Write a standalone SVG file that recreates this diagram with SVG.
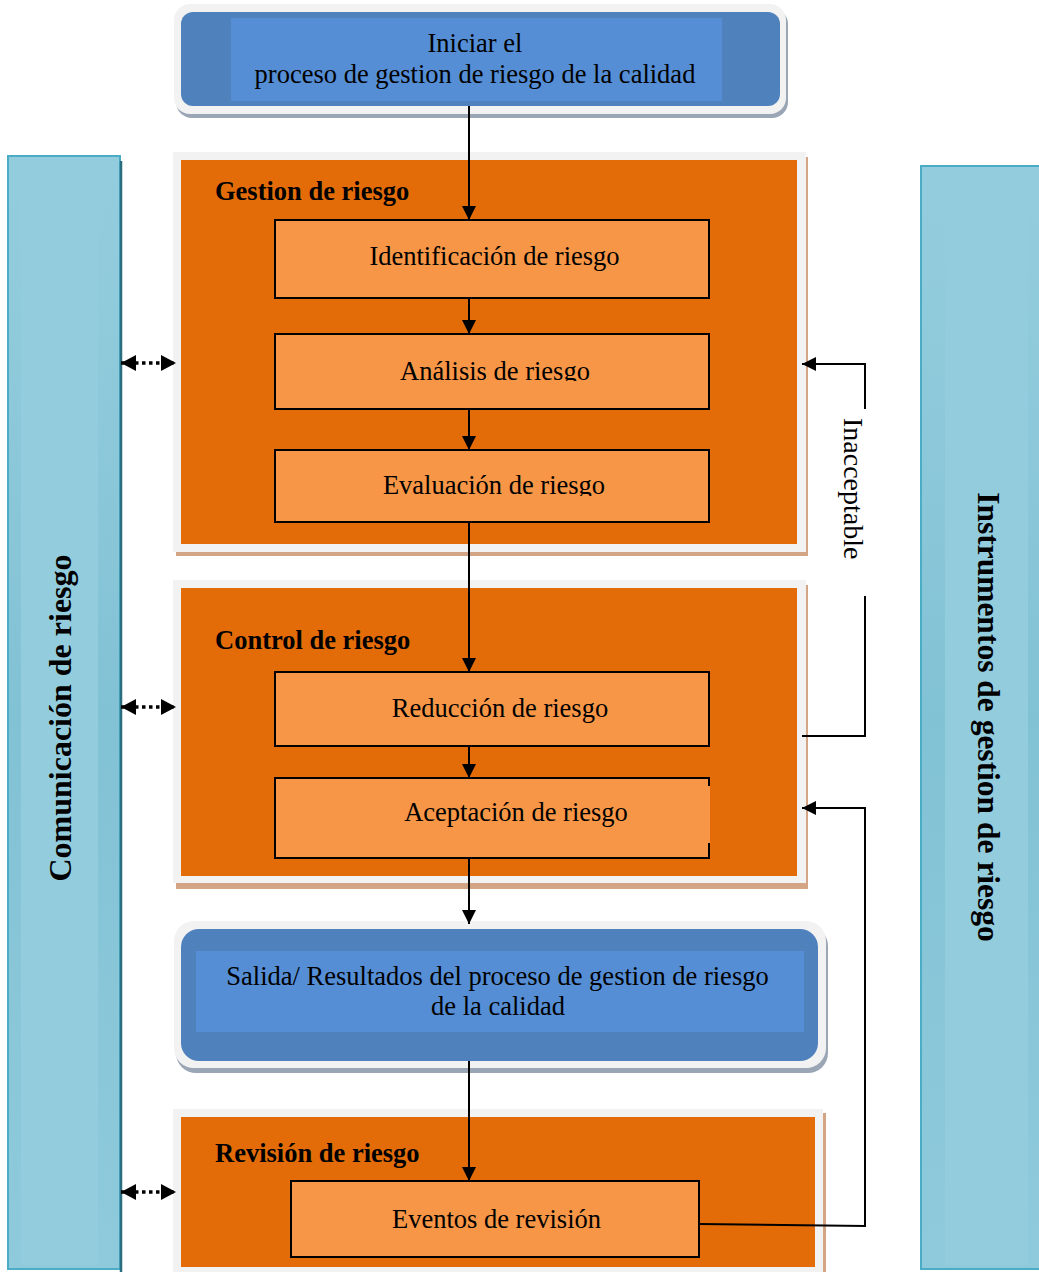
<svg xmlns="http://www.w3.org/2000/svg" width="1039" height="1272" viewBox="0 0 1039 1272">
  <defs>
    <style>
      .txt { font-family: "Liberation Serif", "Times New Roman", serif; font-size: 26.5px; fill: #000; }
      .ttl { font-family: "Liberation Serif", "Times New Roman", serif; font-size: 26.5px; font-weight: bold; fill: #000; }
      .side { font-family: "Liberation Serif", "Times New Roman", serif; font-size: 31.5px; font-weight: bold; fill: #000; }
      .note { font-family: "Liberation Serif", "Times New Roman", serif; font-size: 28px; fill: #000; }
      .step { fill: #f79646; stroke: #000; stroke-width: 2; }
      .panel { fill: #e36c09; }
      .frame { fill: #f2f2f2; }
      .tan { fill: #d3a585; }
      .wire { fill: none; stroke: #000; stroke-width: 2; }
      .flow { marker-end: url(#head); }
      .dots { fill: none; stroke: #000; stroke-width: 3.5; stroke-dasharray: 3.5 3.5; marker-start: url(#dhead); marker-end: url(#dhead); }
    </style>
    <marker id="head" viewBox="0 0 14 14" refX="14" refY="7" markerWidth="14" markerHeight="14" markerUnits="userSpaceOnUse" orient="auto">
      <path d="M0,0 L14,7 L0,14 Z" fill="#000"/>
    </marker>
    <marker id="dhead" viewBox="0 0 15 16" refX="15" refY="8" markerWidth="15" markerHeight="16" markerUnits="userSpaceOnUse" orient="auto-start-reverse">
      <path d="M0,0 L15,8 L0,16 Z" fill="#000"/>
    </marker>
    <linearGradient id="barGrad" x1="0" y1="0" x2="0" y2="1">
      <stop offset="0" stop-color="#93cddd"/>
      <stop offset="0.08" stop-color="#92ccdc"/>
      <stop offset="0.5" stop-color="#82c2d5"/>
      <stop offset="1" stop-color="#8ecadb"/>
    </linearGradient>
    <clipPath id="clipAnalisis"><rect x="276" y="335" width="432" height="46"/></clipPath>
    <clipPath id="clipEvaluacion"><rect x="276" y="451" width="432" height="45"/></clipPath>
  </defs>

  <!-- side bar: communication -->
  <g id="comunicacion">
    <rect x="8" y="156" width="112" height="1113" fill="url(#barGrad)" stroke="#4bacc6" stroke-width="2"/>
    <rect x="21" y="160" width="77" height="1105" fill="#93cddd"/>
    <line x1="121" y1="161" x2="121" y2="1272" stroke="#2a6d80" stroke-width="2.5"/>
    <text class="side" style="font-size:32px" transform="translate(71,718) rotate(-90)" text-anchor="middle">Comunicación de riesgo</text>
  </g>

  <!-- side bar: tools -->
  <g id="instrumentos">
    <rect x="921" y="166" width="130" height="1103" fill="url(#barGrad)" stroke="#4bacc6" stroke-width="2"/>
    <rect x="945" y="170" width="83" height="1095" fill="#93cddd"/>
    <text class="side" transform="translate(978,717) rotate(90)" text-anchor="middle">Instrumentos de gestion de riesgo</text>
  </g>

  <!-- start -->
  <g id="iniciar">
    <rect x="176" y="8" width="612" height="110" rx="16" fill="#9aa6b6"/>
    <rect x="174" y="4" width="612" height="110" rx="16" fill="#f2f2f2"/>
    <rect x="181" y="12" width="599" height="94" rx="12" fill="#4f81bd"/>
    <rect x="231" y="18" width="491" height="83" fill="#558ed5"/>
    <text class="txt" x="475" y="52" text-anchor="middle">Iniciar el</text>
    <text class="txt" x="475" y="83" text-anchor="middle">proceso de gestion de riesgo de la calidad</text>
  </g>

  <!-- risk management panel -->
  <g id="gestion">
    <rect class="tan" x="176" y="157" width="632" height="399"/>
    <rect class="frame" x="173" y="152" width="633" height="400"/>
    <rect class="panel" x="181" y="160" width="616" height="384"/>
    <text class="ttl" x="215" y="200">Gestion de riesgo</text>
  </g>
  <g id="identificacion">
    <rect class="step" x="275" y="220" width="434" height="78"/>
    <text class="txt" x="494.5" y="265" text-anchor="middle">Identificación de riesgo</text>
  </g>
  <g id="analisis">
    <rect class="step" x="275" y="334" width="434" height="75"/>
    <text class="txt" x="495" y="380" text-anchor="middle" clip-path="url(#clipAnalisis)">Análisis de riesgo</text>
  </g>
  <g id="evaluacion">
    <rect class="step" x="275" y="450" width="434" height="72"/>
    <text class="txt" x="494" y="494" text-anchor="middle" clip-path="url(#clipEvaluacion)">Evaluación de riesgo</text>
  </g>

  <!-- risk control panel -->
  <g id="control">
    <rect class="tan" x="176" y="585" width="632" height="304"/>
    <rect class="frame" x="173" y="580" width="633" height="303"/>
    <rect class="panel" x="181" y="588" width="616" height="288"/>
    <text class="ttl" x="215" y="649">Control de riesgo</text>
  </g>
  <g id="reduccion">
    <rect class="step" x="275" y="672" width="434" height="74"/>
    <text class="txt" x="500" y="717" text-anchor="middle">Reducción de riesgo</text>
  </g>
  <g id="aceptacion">
    <rect x="275" y="778" width="435" height="81" fill="#f79646"/>
    <path d="M709,786 V778 H275 V858 H709 V843" fill="none" stroke="#000" stroke-width="2"/>
    <text class="txt" x="516" y="821" text-anchor="middle">Aceptación de riesgo</text>
  </g>

  <!-- output -->
  <g id="salida">
    <rect x="176" y="926" width="652" height="147" rx="20" fill="#9aa6b6"/>
    <rect x="174" y="921" width="652" height="147" rx="20" fill="#f2f2f2"/>
    <rect x="181" y="929" width="637" height="132" rx="18" fill="#4f81bd"/>
    <rect x="196" y="951" width="608" height="81" fill="#558ed5"/>
    <text class="txt" x="497.5" y="985" text-anchor="middle">Salida/ Resultados del proceso de gestion de riesgo</text>
    <text class="txt" x="498" y="1015" text-anchor="middle">de la calidad</text>
  </g>

  <!-- risk review panel -->
  <g id="revision">
    <rect class="tan" x="176" y="1113" width="650" height="162"/>
    <rect class="frame" x="173" y="1109" width="650" height="166"/>
    <rect class="panel" x="181" y="1117" width="634" height="150"/>
    <text class="ttl" x="215" y="1162">Revisión de riesgo</text>
  </g>
  <g id="eventos">
    <rect class="step" x="291" y="1181" width="408" height="76"/>
    <text class="txt" x="496.5" y="1228" text-anchor="middle">Eventos de revisión</text>
  </g>

  <!-- connectors -->
  <g id="connectors">
    <path class="wire flow" d="M469,106 V220"/>
    <path class="wire flow" d="M469,298 V334"/>
    <path class="wire flow" d="M469,410 V450"/>
    <path class="wire flow" d="M469,522 V672"/>
    <path class="wire flow" d="M469,746 V778"/>
    <path class="wire flow" d="M469,859 V924"/>
    <path class="wire flow" d="M469,1061 V1181"/>

    <path class="dots" d="M121,363 H176"/>
    <path class="dots" d="M121,707 H176"/>
    <path class="dots" d="M121,1192 H176"/>

    <path class="wire" d="M802,736 H865 V596"/>
    <path class="wire flow" d="M865,409 V364 H802"/>
    <path class="wire flow" d="M700,1224 L865,1226 V808 H802"/>
    <text class="note" transform="translate(844,418) rotate(90)">Inacceptable</text>
  </g>
</svg>
